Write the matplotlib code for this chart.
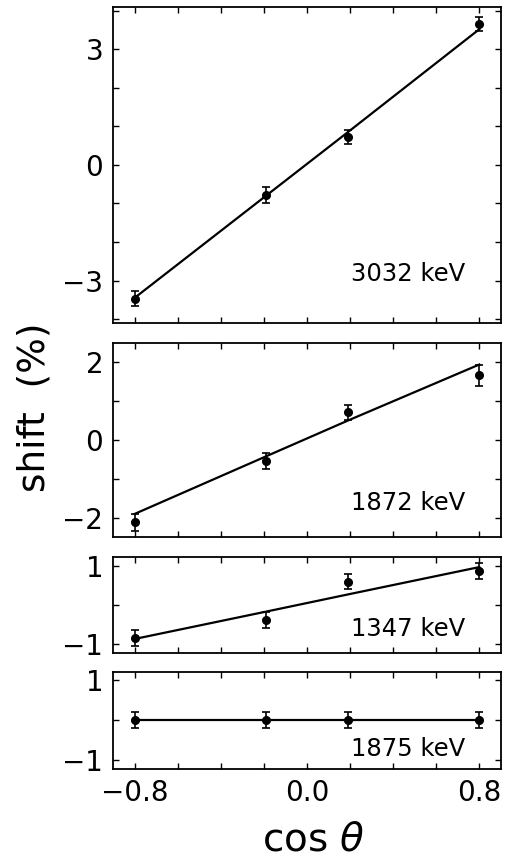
import matplotlib
matplotlib.use("Agg")
import matplotlib.pyplot as plt
import numpy as np

plt.rcParams['font.family'] = ['DejaVu Sans']
plt.rcParams['mathtext.fontset'] = 'dejavusans'

# angles (cos theta) of the four detectors
cos_theta = [-0.8, -0.19, 0.19, 0.8]

# measured shifts (%) and errors, one list per line
labels = ['3032 keV', '1872 keV', '1347 keV', '1875 keV']
shift_3032 = [-3.47, -0.78, 0.72, 3.66]
err_3032 = [0.19, 0.2, 0.19, 0.19]
fit_3032 = [-3.45, -0.8, 0.85, 3.52]

shift_1872 = [-2.11, -0.54, 0.71, 1.66]
err_1872 = [0.22, 0.2, 0.2, 0.27]
fit_1872 = [-1.9, -0.42, 0.5, 1.94]

shift_1347 = [-0.84, -0.38, 0.6, 0.87]
err_1347 = [0.2, 0.2, 0.2, 0.2]
fit_1347 = [-0.87, -0.17, 0.27, 0.97]

shift_1875 = [0.0, 0.0, 0.0, 0.0]
err_1875 = [0.2, 0.2, 0.2, 0.2]
fit_1875 = [0.0, 0.0, 0.0, 0.0]

shifts = [shift_3032, shift_1872, shift_1347, shift_1875]
errs = [err_3032, err_1872, err_1347, err_1875]
fits = [fit_3032, fit_1872, fit_1347, fit_1875]

ylims = [(-4.1, 4.1), (-2.5, 2.5), (-1.22, 1.22), (-1.22, 1.2)]
yticks = [np.arange(-4, 5), np.arange(-2, 3), [-1, 0, 1], [-1, 0, 1]]
ylabs = [[3, 0, -3], [2, 0, -2], [1, -1], [1, -1]]
text_y = [-3.02, -1.81, -0.79, -0.88]

# [left, bottom, width, height] in figure fractions
boxes = [[0.222, 0.624, 0.762, 0.368],
         [0.222, 0.3745, 0.762, 0.2265],
         [0.222, 0.2402, 0.762, 0.111],
         [0.222, 0.1044, 0.762, 0.113]]

fig = plt.figure(figsize=(5.09, 8.59), dpi=100)

for i in range(4):
    ax = fig.add_axes(boxes[i])
    ax.plot(cos_theta, fits[i], color='black', lw=1.6)
    ax.errorbar(cos_theta, shifts[i], yerr=errs[i], fmt='o', color='black',
                ms=5.5, elinewidth=1.2, capsize=3, capthick=1.2)
    ax.set_xlim(-0.9, 0.9)
    ax.set_ylim(*ylims[i])
    ax.set_xticks(np.round(np.arange(-0.8, 0.81, 0.2), 2))
    ax.set_yticks(yticks[i])
    ax.set_yticklabels([str(v).replace('-', '\u2212') if v in ylabs[i] else ''
                        for v in yticks[i]])
    if i == 3:
        ax.set_xticklabels(['\u22120.8', '', '', '', '0.0', '', '', '', '0.8'])
    else:
        ax.set_xticklabels([])
    ax.tick_params(direction='in', top=True, right=True, length=4, width=1,
                   labelsize=20, pad=7)
    for s in ax.spines.values():
        s.set_linewidth(1.3)
    ax.text(0.735, text_y[i], labels[i], ha='right', va='baseline', fontsize=17.5)

fig.text(0.067, 0.526, 'shift  (%)', rotation=90, ha='center', va='center',
         fontsize=27)
fig.text(0.615, 0.01, r'cos $\theta$', ha='center', va='baseline', fontsize=28)

fig.savefig('out.png', dpi=100)
